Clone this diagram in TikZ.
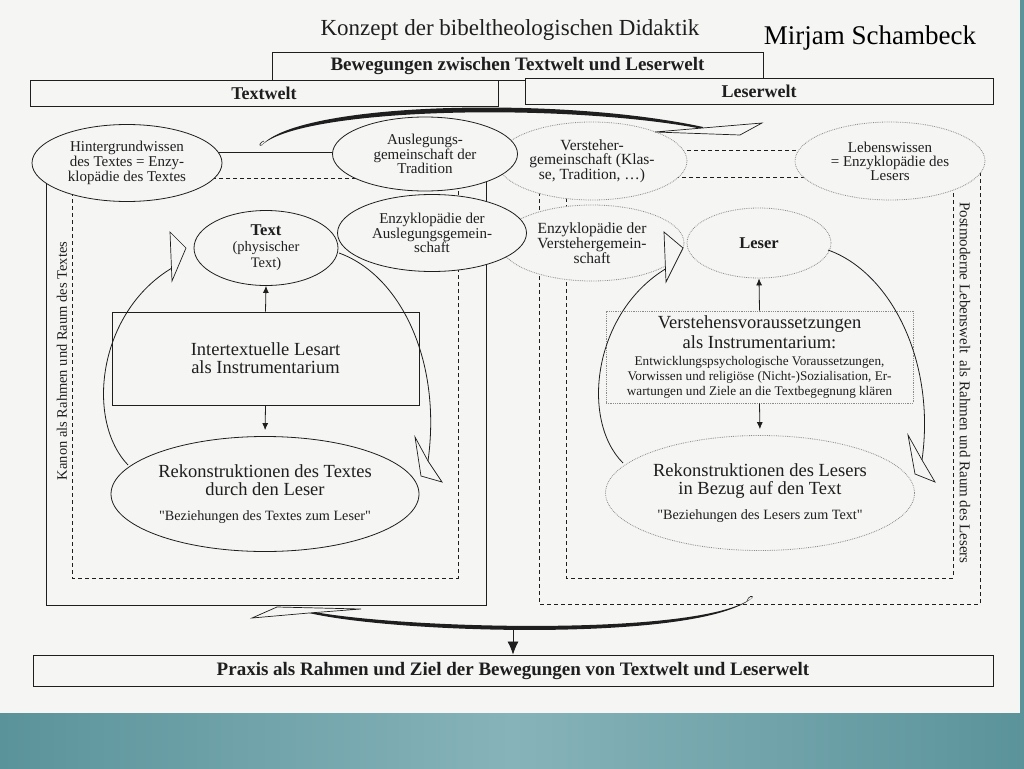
\documentclass[tikz,border=0pt]{standalone}
\usepackage{fontspec}
\setmainfont{Liberation Serif}
\newfontfamily\qfont{Liberation Serif}[Ligatures=TeXOff]
\usetikzlibrary{shapes.geometric,arrows.meta}
\newcommand\myfs[2]{\fontsize{#1}{#2}\selectfont}
\definecolor{ink}{HTML}{1E1E1E}
\definecolor{paper}{HTML}{F5F5F4}
\definecolor{dotgray}{HTML}{8C8C8C}
\definecolor{tealA}{HTML}{5B939B}
\definecolor{tealB}{HTML}{86B3B9}
\tikzset{
  sell/.style={ellipse, draw=ink, line width=0.8pt, fill=paper, inner sep=0pt, align=center, text=ink},
  dell/.style={ellipse, draw=dotgray, densely dotted, line width=0.8pt, fill=paper, inner sep=0pt, align=center, text=ink},
  hdr/.style={draw=ink, line width=0.9pt, fill=paper, inner sep=0pt, font=\bfseries\myfs{18}{20}, text=ink},
  frame/.style={draw=ink, line width=0.8pt},
  dframe/.style={draw=ink, line width=0.9pt, dash pattern=on 4pt off 3pt},
  loop/.style={draw=ink, line width=0.8pt},
  ahead/.style={draw=ink, line width=0.7pt, fill=paper, line join=miter},
  varr/.style={draw=ink, line width=0.8pt, -{Latex[length=7pt,width=6pt]}},
}
\begin{document}
\begin{tikzpicture}[x=1pt,y=-1pt]
\path[use as bounding box] (0,0) rectangle (1024,768);
% background
\fill[paper] (0,0) rectangle (1024,768);
\fill[tealA] (1020,0) rectangle (1024,713);
\shade[left color=tealA, right color=tealA, middle color=tealB] (0,713) rectangle (1024,768);

% title texts
\node[text=ink, font=\myfs{23}{25}] (title) at (510,30) {Konzept der bibeltheologischen Didaktik};
\node[text=black, font=\myfs{27}{29}] (author) at (870,38) {Mirjam Schambeck};

% header boxes
\node[hdr, minimum width=491pt, minimum height=28pt, font=\bfseries\myfs{19}{21}] (bew) at (517.5,66) {Bewegungen zwischen Textwelt und Leserwelt};
\node[hdr, minimum width=468pt, minimum height=26pt] (tw) at (264,93) {Textwelt};
\node[hdr, minimum width=468pt, minimum height=26pt] (lw) at (759,91) {Leserwelt};

% frames (left: solid outer, dashed inner; right: both dashed)
\draw[frame] (46,152) rectangle (486,605);
\draw[dframe] (72,178) rectangle (458,578);
\draw[dframe] (539,150) rectangle (980,604);
\draw[dframe] (566,177) rectangle (953,578);

% side texts
\node[rotate=90, text=ink, font=\myfs{14.5}{16}, fill=paper, inner sep=1pt] (kanon) at (62,361) {Kanon als Rahmen und Raum des Textes};
\node[rotate=-90, text=ink, font=\myfs{15}{16}, fill=paper, inner sep=1pt] (post) at (965,383) {Postmoderne Lebenswelt\ \ als Rahmen und Raum des Lesers};

% ellipses - Leserwelt (dotted, drawn first)
\node[dell, minimum width=190pt, minimum height=78pt, font=\myfs{15.5}{14}] (verst) at (592,161) {Versteher-\\gemeinschaft (Klas-\\se, Tradition, …)};
\node[dell, minimum width=190pt, minimum height=78pt, font=\myfs{15}{14}] (lebens) at (890,161) {Lebenswissen\\= Enzyklopädie des\\Lesers};
\node[dell, minimum width=184pt, minimum height=76pt, font=\myfs{15.5}{14}] (enzv) at (592,243) {Enzyklopädie der\\Verstehergemein-\\schaft};
% ellipses - Textwelt (solid)
\node[sell, minimum width=190pt, minimum height=77pt, font=\myfs{15}{13.5}] (hint) at (127,163) {Hintergrundwissen\\des Textes = Enzy-\\klopädie des Textes};
\node[sell, minimum width=185pt, minimum height=74pt, font=\myfs{15}{13.5}] (ausl) at (425,154) {Auslegungs-\\gemeinschaft der\\Tradition};
\node[sell, minimum width=189pt, minimum height=77pt, font=\myfs{15}{13.5}] (enza) at (432,233) {Enzyklopädie der\\Auslegungsgemein-\\schaft};

% Text / Leser ellipses
\node[sell, minimum width=144pt, minimum height=75pt, font=\myfs{14.5}{16}] (text) at (266,248) {{\bfseries\myfs{16.5}{16}Text}\\(physischer\\Text)};
\node[dell, minimum width=144pt, minimum height=70pt, font=\bfseries\myfs{16.5}{16}] (leser) at (759,243) {Leser};

% instrument boxes
\node[draw=ink, line width=0.8pt, fill=paper, minimum width=307pt, minimum height=93pt, align=center, font=\myfs{18.5}{18}, text=ink] (inter) at (265.5,358.5) {Intertextuelle Lesart\\als Instrumentarium};
\node[draw=dotgray, densely dotted, line width=0.8pt, fill=paper, minimum width=307pt, minimum height=92pt, align=center, inner sep=0pt, text=ink, font=\myfs{13.2}{15}] (vvor) at (759.5,357) {{\myfs{18.5}{18.5}Verstehensvoraussetzungen}\\[2pt]{\myfs{18.5}{18.5}als Instrumentarium:}\\[2pt]Entwicklungspsychologische Voraussetzungen,\\Vorwissen und religiöse (Nicht-)Sozialisation, Er-\\wartungen und Ziele an die Textbegegnung klären};

% reconstruction ellipses
\node[sell, minimum width=308pt, minimum height=115pt, font=\myfs{18.5}{18}] (rekt) at (265,494) {Rekonstruktionen des Textes\\durch den Leser\\[7pt]{\qfont\myfs{14.2}{14}"Beziehungen des Textes zum Leser"}};
\node[dell, minimum width=309pt, minimum height=115pt, font=\myfs{18.5}{18}] (rekl) at (760,493) {Rekonstruktionen des Lesers\\in Bezug auf den Text\\[7pt]{\qfont\myfs{14.2}{14}"Beziehungen des Lesers zum Text"}};

% vertical arrows
\draw[varr] (inter.north) -- (text.south);
\draw[varr, shorten >=6pt] (inter.south) -- (rekt.north);
\draw[varr] (vvor.north) -- (leser.south);
\draw[varr, shorten >=6pt] (vvor.south) -- (rekl.north);

% loops Textwelt
\coordinate (tl1) at (128,465);
\coordinate (tl2) at (172,268);
\draw[loop] (tl1) .. controls (85,420) and (98,312) .. (tl2);
\draw[ahead] (170,232) -- (186,248) -- (172,281) -- cycle;
\coordinate (tr1) at (339,253);
\coordinate (tr2) at (428,461);
\draw[loop] (tr1) .. controls (400,275) and (442,360) .. (tr2);
\draw[ahead] (415,437) -- (421,476) -- (442,482) -- (428,461) -- cycle;

% loops Leserwelt
\coordinate (ll1) at (623,463);
\coordinate (ll2) at (667,268);
\draw[loop] (ll1) .. controls (580,420) and (593,312) .. (ll2);
\draw[ahead] (664,232) -- (683,248) -- (666,282) -- cycle;
\coordinate (lr1) at (828,250);
\coordinate (lr2) at (922,460);
\draw[loop] (lr1) .. controls (890,272) and (936,360) .. (lr2);
\draw[ahead] (908,435) -- (915,474) -- (935,482) -- (922,460) -- cycle;

% top sweeping arrow (tapered)
\coordinate (ts) at (262,145);
\coordinate (te) at (703,127);
\fill[ink] (ts) .. controls (300,102) and (560,96) .. (te)
  -- (703,129) .. controls (560,102) and (302,108) .. (ts) -- cycle;
\draw[ink, line width=0.6pt] (ts) .. controls (258,147) and (260,142) .. (264,141);
\draw[ahead] (655,132) -- (762,123) -- (740,135) -- cycle;

% bottom sweeping arrow (tapered)
\coordinate (bs) at (752,598);
\coordinate (be) at (309,613);
\coordinate (bc) at (513,628);
\fill[ink] (bs) .. controls (700,642) and (400,634) .. (be)
  -- (309,611) .. controls (400,629) and (700,637) .. (bs) -- cycle;
\draw[ink, line width=0.6pt] (bs) .. controls (754,595) and (748,596) .. (747,601);
\draw[ahead] (252,618) -- (277,607) -- (361,609) -- (309,613) -- cycle;

% Praxis box and arrow
\node[hdr, minimum width=960pt, minimum height=31pt, font=\bfseries\myfs{19}{21}] (praxis) at (513,670.5) {Praxis als Rahmen und Ziel der Bewegungen von Textwelt und Leserwelt};
\draw[ink, line width=0.8pt, -{Latex[length=13pt,width=11pt]}] (bc) -- (praxis.north);
\end{tikzpicture}
\end{document}
